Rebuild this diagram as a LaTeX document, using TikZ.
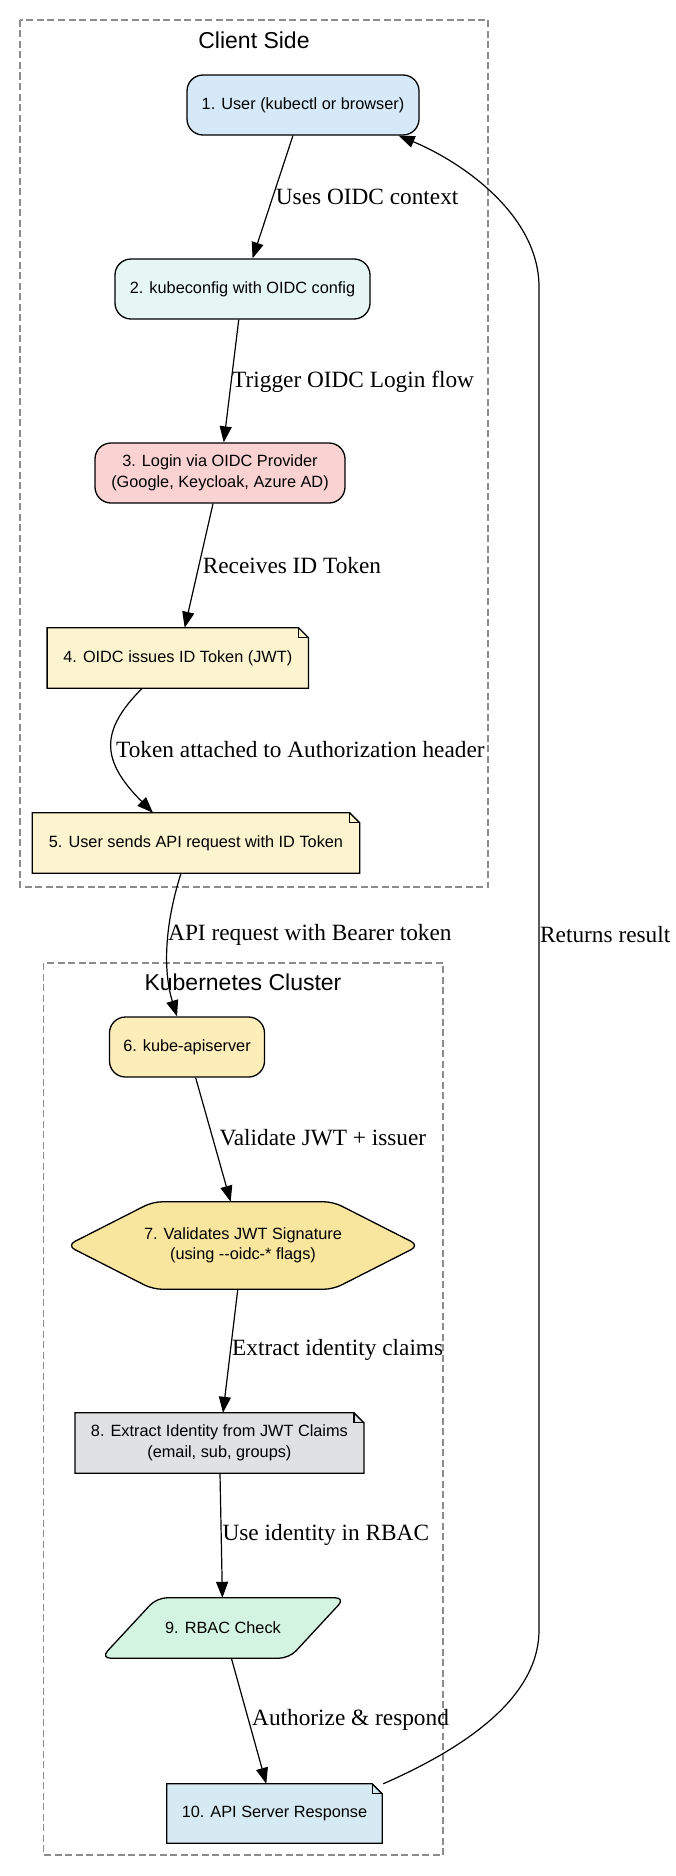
\documentclass[tikz,border=0pt]{standalone}
\usepackage{fontspec}
\setmainfont{Liberation Serif}
\newfontfamily\sansnode{Liberation Sans}
\usetikzlibrary{arrows.meta}
\pgfdeclarelayer{bg}
\pgfsetlayers{bg,main}
\definecolor{cA}{HTML}{D6E9F8}
\definecolor{cB}{HTML}{E6F7F3}
\definecolor{cC}{HTML}{FAD2D2}
\definecolor{cD}{HTML}{FCF3CF}
\definecolor{cF}{HTML}{FDEDB8}
\definecolor{cG}{HTML}{F8E59E}
\definecolor{cH}{HTML}{E0E1E3}
\definecolor{cI}{HTML}{D4F4E2}
\definecolor{cJ}{HTML}{D6EAF4}
\definecolor{clgray}{HTML}{8C8C8C}
\tikzset{
  nodetext/.style={font=\sansnode\fontsize{16.3}{20.5}\selectfont, align=center, inner sep=0pt},
  rbox/.style={nodetext, rectangle, rounded corners=16pt, draw, line width=1.3pt, minimum height=60pt},
  txtbox/.style={nodetext, rectangle, minimum height=60pt},
  conn/.style={draw, line width=1.2pt, -{Triangle[length=16pt,width=12pt]}},
  elabel/.style={font=\fontsize{23.3}{27}\selectfont, anchor=west, inner sep=0pt},
  clusterbox/.style={draw=clgray, dash pattern=on 7pt off 3.5pt, line width=1.3pt},
  ctitle/.style={font=\sansnode\fontsize{23}{27}\selectfont, inner sep=0pt},
  outline/.style={line width=1.3pt, line join=miter},
}
\newcommand\notebg[2]{%
  \begin{pgfonlayer}{bg}
  \filldraw[outline, fill=#2] (#1.north west) -- ([xshift=-10pt]#1.north east) -- ([yshift=-10pt]#1.north east) -- (#1.south east) -- (#1.south west) -- cycle;
  \draw[outline] ([xshift=-10pt]#1.north east) -- ([xshift=-10pt,yshift=-10pt]#1.north east) -- ([yshift=-10pt]#1.north east);
  \end{pgfonlayer}}
\begin{document}
\begin{tikzpicture}[x=1pt,y=-1pt]
\begin{pgfonlayer}{bg}
\fill[white] (0,0) rectangle (676,1876);
\end{pgfonlayer}
\useasboundingbox (0,0) rectangle (676,1876);
% clusters
\draw[clusterbox] (20,20) rectangle (488,887);
\node[ctitle] (tclient) at (254,40) {Client Side};
\draw[clusterbox] (43.5,963) rectangle (443,1855);
\node[ctitle] (tk8s) at (243,982) {Kubernetes Cluster};
% nodes
\node[rbox, fill=cA, minimum width=232pt] (n1) at (303,105) {1. User (kubectl or browser)};
\node[rbox, fill=cB, minimum width=255pt] (n2) at (242.5,289) {2. kubeconfig with OIDC config};
\node[rbox, fill=cC, minimum width=250pt] (n3) at (220,473) {3. Login via OIDC Provider\\(Google, Keycloak, Azure AD)};
\node[txtbox, minimum width=261pt] (n4) at (177.8,658) {4. OIDC issues ID Token (JWT)};
\notebg{n4}{cD}
\node[txtbox, minimum width=327pt] (n5) at (196,843) {5. User sends API request with ID Token};
\notebg{n5}{cD}
\node[rbox, fill=cF, minimum width=155pt] (n6) at (187,1047) {6. kube-apiserver};
\node[txtbox, minimum width=352pt, minimum height=87pt] (n7) at (243,1245.5) {7. Validates JWT Signature\\(using -\kern0pt-oidc-* flags)};
\begin{pgfonlayer}{bg}
\filldraw[outline, fill=cG, rounded corners=9pt] (n7.west) -- ([xshift=86pt]n7.north west) -- ([xshift=-86pt]n7.north east) -- (n7.east) -- ([xshift=-86pt]n7.south east) -- ([xshift=86pt]n7.south west) -- cycle;
\end{pgfonlayer}
\node[txtbox, minimum width=288.6pt] (n8) at (219.4,1443) {8. Extract Identity from JWT Claims\\(email, sub, groups)};
\notebg{n8}{cH}
\node[txtbox, minimum width=244pt] (n9) at (223,1628) {9. RBAC Check};
\begin{pgfonlayer}{bg}
\filldraw[outline, fill=cI, rounded corners=10pt] ([xshift=56pt]n9.north west) -- (n9.north east) -- ([xshift=-56pt]n9.south east) -- (n9.south west) -- cycle;
\end{pgfonlayer}
\node[txtbox, minimum width=215pt, minimum height=59pt] (n10) at (274.5,1813.5) {10. API Server Response};
\notebg{n10}{cJ}
% connectors
\draw[conn] (n1) -- (n2);
\draw[conn] (n2) -- (n3);
\draw[conn] (n3) -- (n4);
\draw[conn] ([xshift=-35.5pt]n4.south) .. controls +(-42,42) and +(-53,-53) .. ([xshift=-43pt]n5.north);
\draw[conn] ([xshift=-15pt]n5.south) .. controls +(-18,57) and +(-13,-42) .. ([xshift=-10pt]n6.north);
\draw[conn] (n6) -- (n7);
\draw[conn] (n7) -- (n8);
\draw[conn] (n8) -- (n9);
\draw[conn] (n9) -- (n10);
\coordinate (r1) at (539,1630);
\coordinate (r2) at (539,287);
\draw[conn] ([xshift=1pt]n10.north east) .. controls (460,1750) and (539,1700) .. (r1) -- (r2) .. controls (539,215) and (462,162) .. ([xshift=-21pt]n1.south east);
% labels
\node[elabel] (l1) at (275.7,197) {Uses OIDC context};
\node[elabel] (l2) at (232,382) {Trigger OIDC Login flow};
\node[elabel] (l3) at (202.6,566) {Receives ID Token};
\node[elabel] (l4) at (116,750) {Token attached to Authorization header};
\node[elabel] (l5) at (168,935) {API request with Bearer token};
\node[elabel] (l6) at (540,935) {Returns result};
\node[elabel] (l7) at (219.4,1138) {Validate JWT + issuer};
\node[elabel] (l8) at (232,1350) {Extract identity claims};
\node[elabel] (l9) at (222.4,1535) {Use identity in RBAC};
\node[elabel] (l10) at (252,1720) {Authorize \& respond};
\end{tikzpicture}
\end{document}
